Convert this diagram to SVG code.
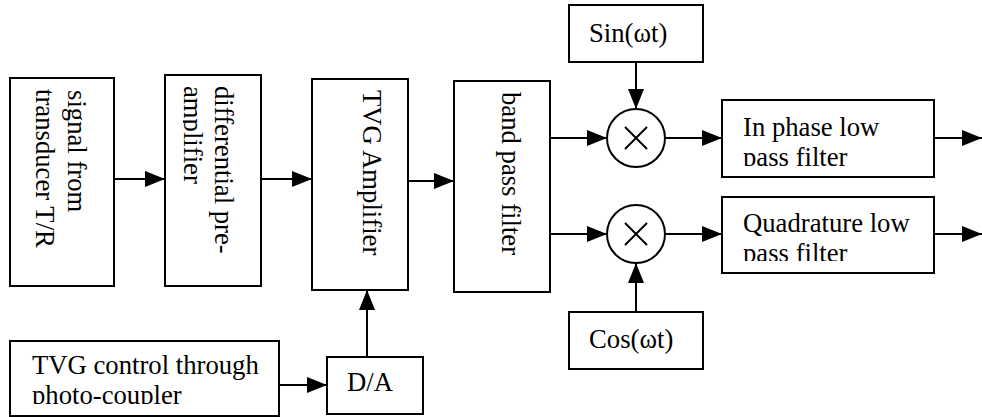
<svg xmlns="http://www.w3.org/2000/svg" width="982" height="417" viewBox="0 0 982 417">
<style>
.box{fill:#fff;stroke:#000;stroke-width:2}
.t{font-family:"Liberation Serif","Times New Roman",serif;font-size:26.7px;fill:#000}
.c{fill:none;stroke:#000;stroke-width:2}
</style>
<defs>
<marker id="ah" markerWidth="20" markerHeight="16" refX="20" refY="8" orient="auto" markerUnits="userSpaceOnUse">
<path d="M0,0 L20,8 L0,16 Z" fill="#000"/>
</marker>
<clipPath id="cp2"><rect x="183" y="75" width="78" height="211"/></clipPath>
<clipPath id="cpI"><rect x="722" y="100" width="212" height="66"/></clipPath>
<clipPath id="cpQ"><rect x="722" y="197" width="212" height="64"/></clipPath>
<clipPath id="cpT"><rect x="10" y="341" width="269" height="63"/></clipPath>
</defs>
<rect width="982" height="417" fill="#fff"/>
<g id="connectors">
<line class="c" x1="114" y1="179" x2="165" y2="179" marker-end="url(#ah)"/>
<line class="c" x1="261" y1="179" x2="312" y2="179" marker-end="url(#ah)"/>
<line class="c" x1="408" y1="181" x2="454" y2="181" marker-end="url(#ah)"/>
<line class="c" x1="550" y1="138" x2="607" y2="138" marker-end="url(#ah)"/>
<line class="c" x1="550" y1="234" x2="607" y2="234" marker-end="url(#ah)"/>
<line class="c" x1="636" y1="62" x2="636" y2="109" marker-end="url(#ah)"/>
<line class="c" x1="636" y1="312" x2="636" y2="263" marker-end="url(#ah)"/>
<line class="c" x1="665" y1="138" x2="722" y2="138" marker-end="url(#ah)"/>
<line class="c" x1="665" y1="234" x2="722" y2="234" marker-end="url(#ah)"/>
<line class="c" x1="934" y1="138" x2="982" y2="138" marker-end="url(#ah)"/>
<line class="c" x1="934" y1="234" x2="982" y2="234" marker-end="url(#ah)"/>
<line class="c" x1="279" y1="385" x2="327" y2="385" marker-end="url(#ah)"/>
<line class="c" x1="367" y1="357" x2="367" y2="290" marker-end="url(#ah)"/>
</g>
<g id="signal">
<rect class="box" x="10" y="78" width="104" height="208"/>
<text class="t" transform="translate(68,90) rotate(90)">signal from</text>
<text class="t" transform="translate(36,89) rotate(90)">transducer T/R</text>
</g>
<g id="preamp">
<rect class="box" x="165" y="75" width="96" height="211"/>
<g clip-path="url(#cp2)">
<text class="t" transform="translate(215,86) rotate(90)">differential pre-</text>
<text class="t" transform="translate(184,86) rotate(90)">amplifier</text>
</g>
</g>
<g id="tvgamp">
<rect class="box" x="312" y="79" width="96" height="211"/>
<text class="t" transform="translate(363,90) rotate(90)">TVG Amplifier</text>
</g>
<g id="bandpass">
<rect class="box" x="454" y="81" width="96" height="211"/>
<text class="t" transform="translate(502,92) rotate(90)">band pass filter</text>
</g>
<g id="sin">
<rect class="box" x="569" y="5" width="134" height="57"/>
<text class="t" x="589" y="42">Sin(ωt)</text>
</g>
<g id="cos">
<rect class="box" x="569" y="312" width="134" height="57"/>
<text class="t" x="589" y="348">Cos(ωt)</text>
</g>
<g id="mixer1">
<circle class="c" cx="636" cy="138" r="29"/>
<path class="c" d="M625,127 L647,149 M647,127 L625,149" stroke-width="1.5"/>
</g>
<g id="mixer2">
<circle class="c" cx="636" cy="234" r="29"/>
<path class="c" d="M625,223 L647,245 M647,223 L625,245" stroke-width="1.5"/>
</g>
<g id="inphase">
<rect class="box" x="722" y="100" width="212" height="77"/>
<g clip-path="url(#cpI)">
<text class="t" x="743" y="136">In phase low</text>
<text class="t" x="743" y="166">pass filter</text>
</g>
</g>
<g id="quad">
<rect class="box" x="722" y="197" width="212" height="76"/>
<g clip-path="url(#cpQ)">
<text class="t" x="743" y="232">Quadrature low</text>
<text class="t" x="743" y="262">pass filter</text>
</g>
</g>
<g id="tvgcontrol">
<rect class="box" x="10" y="341" width="269" height="75"/>
<g clip-path="url(#cpT)">
<text class="t" x="32" y="374">TVG control through</text>
<text class="t" x="32" y="404">photo-coupler</text>
</g>
</g>
<g id="da">
<rect class="box" x="327" y="357" width="96" height="57"/>
<text class="t" x="347" y="391">D/A</text>
</g>
</svg>
